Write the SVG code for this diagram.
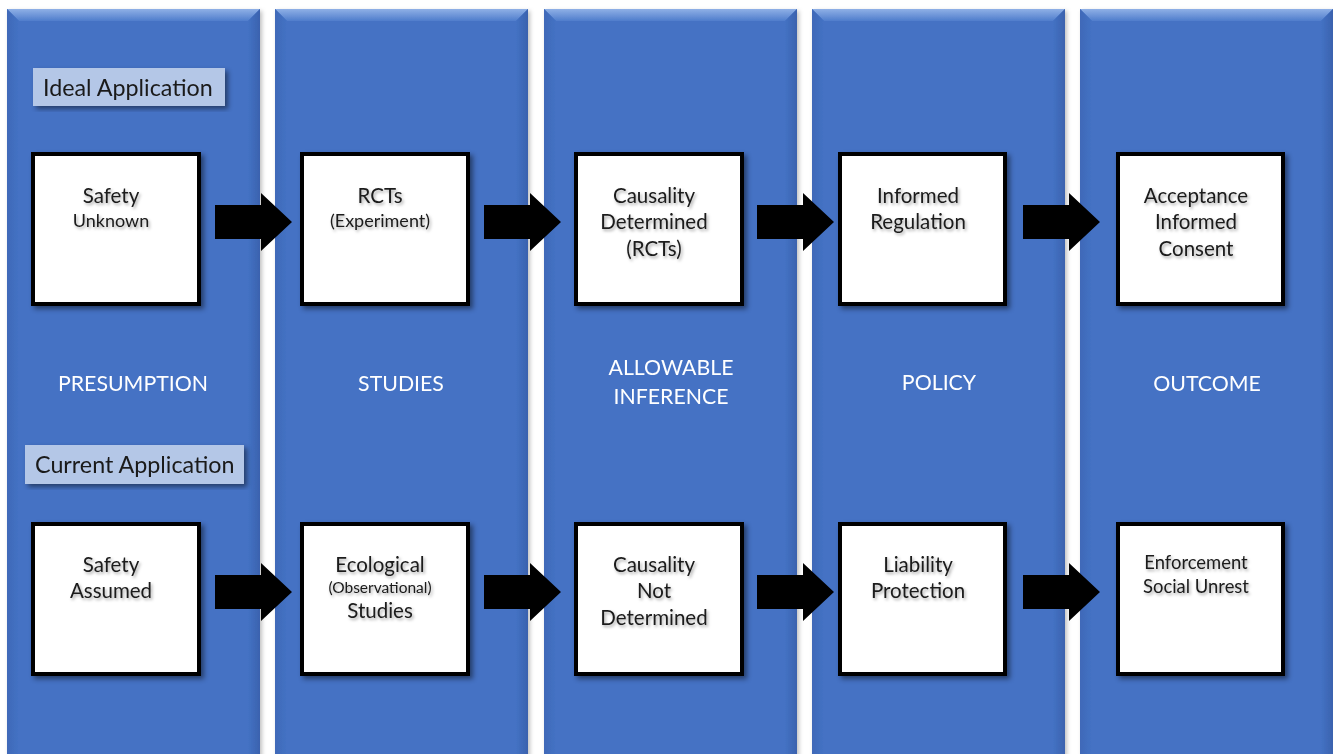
<svg xmlns="http://www.w3.org/2000/svg" width="1333" height="754" viewBox="0 0 1333 754">
<defs>
<linearGradient id="gTop" x1="0" y1="0" x2="0" y2="1">
<stop offset="0" stop-color="#8FB0E6"/><stop offset="1" stop-color="#4F7DCC"/>
</linearGradient>
<linearGradient id="gLeft" x1="0" y1="0" x2="1" y2="0">
<stop offset="0" stop-color="#3F69B8"/><stop offset="1" stop-color="#4472C4"/>
</linearGradient>
<linearGradient id="gRight" x1="0" y1="0" x2="1" y2="0">
<stop offset="0" stop-color="#4472C4"/><stop offset="1" stop-color="#3A62AE"/>
</linearGradient>
<filter id="colShadow" x="-5%" y="-5%" width="110%" height="110%">
<feDropShadow dx="2" dy="2" stdDeviation="2" flood-color="#000" flood-opacity="0.25"/>
</filter>
<filter id="boxShadow" x="-10%" y="-10%" width="125%" height="125%">
<feDropShadow dx="3" dy="3" stdDeviation="2.5" flood-color="#000" flood-opacity="0.45"/>
</filter>
<filter id="txtShadow" x="-10%" y="-30%" width="120%" height="160%">
<feDropShadow dx="1.5" dy="2" stdDeviation="1.5" flood-color="#000" flood-opacity="0.35"/>
</filter>
<g id="col">
<rect x="0" y="0" width="253" height="760" fill="#4472C4"/>
<polygon points="0,0 253,0 241,12 12,12" fill="url(#gTop)"/>
<polygon points="0,0 12,12 12,760 0,760" fill="url(#gLeft)"/>
<polygon points="253,0 241,12 241,760 253,760" fill="url(#gRight)"/>
</g>
<path id="arrow" d="M0,-17 H46 V-29 L77,0 L46,29 V17 H0 Z"/>
</defs>
<style>
.node rect { fill:#FFFFFF; stroke:#000000; stroke-width:4; filter:url(#boxShadow); }
.nt { font-family:Lato,"Liberation Sans",sans-serif; fill:#1A1A1A; text-anchor:middle; filter:url(#txtShadow); }
.big { font-size:20.5px; }
.sm { font-size:18px; }
.xs { font-size:15.5px; }
.md { font-size:18.4px; }
.hdr { font-family:Lato,"Liberation Sans",sans-serif; font-size:21.3px; fill:#FFFFFF; text-anchor:middle; }
.lbl rect { fill:#B4C7E7; filter:url(#boxShadow); }
.lbl text { font-family:Lato,"Liberation Sans",sans-serif; font-size:23.3px; fill:#1A1A1A; }
.arr { fill:#000000; }
</style>
<rect width="1333" height="754" fill="#FFFFFF"/>
<g id="columns" filter="url(#colShadow)">
<use href="#col" x="7" y="9"/>
<use href="#col" x="275" y="9"/>
<use href="#col" x="544" y="9"/>
<use href="#col" x="812" y="9"/>
<use href="#col" x="1080" y="9"/>
</g>
<g id="headers">
<text class="hdr" x="133" y="391">PRESUMPTION</text>
<text class="hdr" x="401" y="391">STUDIES</text>
<text class="hdr" x="671" y="375">ALLOWABLE</text>
<text class="hdr" x="671" y="404">INFERENCE</text>
<text class="hdr" x="939" y="390">POLICY</text>
<text class="hdr" x="1207" y="391">OUTCOME</text>
</g>
<g id="label-ideal" class="lbl">
<rect x="33" y="68" width="192" height="38"/>
<text x="43" y="96">Ideal Application</text>
</g>
<g id="label-current" class="lbl">
<rect x="25" y="445" width="219" height="39"/>
<text x="35" y="473">Current Application</text>
</g>
<g id="connectors" class="arr">
<use href="#arrow" x="215" y="222"/>
<use href="#arrow" x="484" y="222"/>
<use href="#arrow" x="757" y="222"/>
<use href="#arrow" x="1023" y="222"/>
<use href="#arrow" x="215" y="592"/>
<use href="#arrow" x="484" y="592"/>
<use href="#arrow" x="757" y="592"/>
<use href="#arrow" x="1023" y="592"/>
</g>
<g id="n-safety-unknown" class="node">
<rect x="33" y="154" width="166" height="150"/>
<text class="nt big" x="111" y="203">Safety</text>
<text class="nt sm" x="111" y="227">Unknown</text>
</g>
<g id="n-rcts" class="node">
<rect x="302" y="154" width="166" height="150"/>
<text class="nt big" x="380" y="203">RCTs</text>
<text class="nt sm" x="380" y="227">(Experiment)</text>
</g>
<g id="n-causality-determined" class="node">
<rect x="576" y="154" width="166" height="150"/>
<text class="nt big" x="654" y="203">Causality</text>
<text class="nt big" x="654" y="229">Determined</text>
<text class="nt big" x="654" y="256">(RCTs)</text>
</g>
<g id="n-informed-regulation" class="node">
<rect x="840" y="154" width="165" height="150"/>
<text class="nt big" x="918" y="203">Informed</text>
<text class="nt big" x="918" y="229">Regulation</text>
</g>
<g id="n-acceptance" class="node">
<rect x="1118" y="154" width="165" height="150"/>
<text class="nt big" x="1196" y="203">Acceptance</text>
<text class="nt big" x="1196" y="229">Informed</text>
<text class="nt big" x="1196" y="256">Consent</text>
</g>
<g id="n-safety-assumed" class="node">
<rect x="33" y="524" width="166" height="150"/>
<text class="nt big" x="111" y="572">Safety</text>
<text class="nt big" x="111" y="598">Assumed</text>
</g>
<g id="n-ecological" class="node">
<rect x="302" y="524" width="166" height="150"/>
<text class="nt big" x="380" y="572">Ecological</text>
<text class="nt xs" x="380" y="593">(Observational)</text>
<text class="nt big" x="380" y="618">Studies</text>
</g>
<g id="n-causality-not" class="node">
<rect x="576" y="524" width="166" height="150"/>
<text class="nt big" x="654" y="572">Causality</text>
<text class="nt big" x="654" y="598">Not</text>
<text class="nt big" x="654" y="625">Determined</text>
</g>
<g id="n-liability" class="node">
<rect x="840" y="524" width="165" height="150"/>
<text class="nt big" x="918" y="572">Liability</text>
<text class="nt big" x="918" y="598">Protection</text>
</g>
<g id="n-enforcement" class="node">
<rect x="1118" y="524" width="165" height="150"/>
<text class="nt md" x="1196" y="569">Enforcement</text>
<text class="nt md" x="1196" y="593">Social Unrest</text>
</g>
</svg>
